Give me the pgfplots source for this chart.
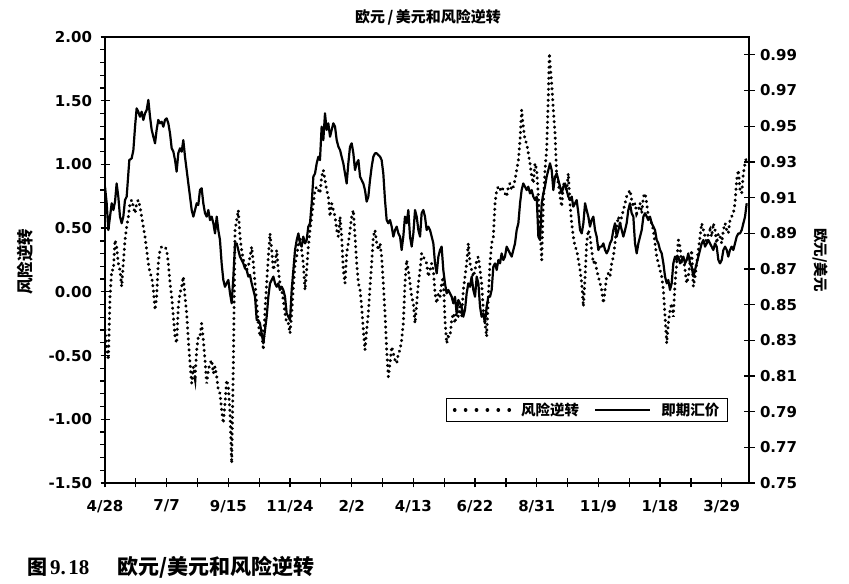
\documentclass[border=0pt]{standalone}
\usepackage{fontspec}
\usepackage{pgfplots}
\usepackage{pgfplotstable}
\pgfplotsset{compat=1.18}
\newfontfamily\cjk{Noto Sans CJK SC}
\newfontfamily\numfont{DejaVu Sans}
\newfontfamily\capnum{Liberation Serif}

\pgfplotstableread{
d v
0 0.9161
1.9 0.9068
3.8 0.8918
5.7 0.8993
7.6 0.9068
9.5 0.9030
11.4 0.9077
13.2 0.9179
15.1 0.9105
17.0 0.8993
18.9 0.8956
20.8 0.8993
22.7 0.9086
24.6 0.9105
27.6 0.9310
30.3 0.9320
32.2 0.9366
34.1 0.9497
35.9 0.9600
37.8 0.9581
39.7 0.9553
41.6 0.9581
43.5 0.9535
45.4 0.9572
47.3 0.9591
49.2 0.9647
51.1 0.9553
53.0 0.9479
54.9 0.9441
56.8 0.9404
58.6 0.9479
60.5 0.9535
62.4 0.9516
64.3 0.9525
66.2 0.9497
68.1 0.9535
70.0 0.9544
71.9 0.9516
73.8 0.9460
75.7 0.9376
77.6 0.9357
79.5 0.9310
81.3 0.9245
83.2 0.9348
85.1 0.9376
87.0 0.9357
88.9 0.9422
90.8 0.9329
92.7 0.9254
94.6 0.9179
96.5 0.9105
98.4 0.9030
100.3 0.8993
102.2 0.9030
104.1 0.9068
105.9 0.9058
107.8 0.9142
109.7 0.9152
111.6 0.9068
113.5 0.9012
115.4 0.8993
117.3 0.9030
119.2 0.8974
121.1 0.8993
123.0 0.8956
124.9 0.8899
126.8 0.8993
128.6 0.8918
130.5 0.8862
132.4 0.8731
134.3 0.8638
136.2 0.8600
138.1 0.8619
140.0 0.8638
141.9 0.8563
143.8 0.8507
145.7 0.8657
147.6 0.8843
149.5 0.8843
151.3 0.8806
153.2 0.8769
155.1 0.8750
157.0 0.8731
158.9 0.8703
160.8 0.8694
162.7 0.8657
164.6 0.8666
166.5 0.8619
168.4 0.8582
170.3 0.8544
172.2 0.8413
174.0 0.8413
175.9 0.8395
177.8 0.8339
179.7 0.8283
181.6 0.8357
183.5 0.8432
185.4 0.8544
187.3 0.8619
189.2 0.8638
191.1 0.8657
193.0 0.8619
194.9 0.8600
196.7 0.8619
198.6 0.8582
200.5 0.8600
202.4 0.8582
204.3 0.8544
206.2 0.8451
208.1 0.8432
210.0 0.8413
211.9 0.8582
213.8 0.8694
215.7 0.8806
217.6 0.8862
219.5 0.8899
221.3 0.8843
223.2 0.8825
225.1 0.8881
227.0 0.8843
228.9 0.8862
230.8 0.8937
232.7 0.8956
234.6 0.9068
236.5 0.9217
238.4 0.9235
240.3 0.9292
242.2 0.9329
244.0 0.9310
245.9 0.9497
247.8 0.9422
249.7 0.9572
251.6 0.9479
253.5 0.9516
255.4 0.9441
257.3 0.9479
259.2 0.9516
261.1 0.9497
263.0 0.9422
264.9 0.9385
266.8 0.9366
268.6 0.9329
270.5 0.9292
272.4 0.9235
274.3 0.9179
276.2 0.9292
278.1 0.9385
280.0 0.9404
281.9 0.9348
283.8 0.9254
285.7 0.9292
287.6 0.9310
289.5 0.9217
291.3 0.9198
293.2 0.9179
295.1 0.9142
297.0 0.9077
298.9 0.9105
300.8 0.9198
302.7 0.9273
304.6 0.9329
306.5 0.9348
308.4 0.9348
310.3 0.9338
312.2 0.9329
314.0 0.9310
315.9 0.9235
317.8 0.9086
319.7 0.8974
321.6 0.8956
323.5 0.8974
325.4 0.8937
327.3 0.8881
329.2 0.8918
331.1 0.8937
333.0 0.8899
334.9 0.8881
336.7 0.8806
338.6 0.8881
340.5 0.8993
342.4 0.8956
344.3 0.9030
346.2 0.8881
348.1 0.8825
350.0 0.8899
351.9 0.9030
353.8 0.8993
355.7 0.8918
357.6 0.8881
359.4 0.9012
361.3 0.9030
363.2 0.8993
365.1 0.8918
367.0 0.8937
368.9 0.8918
370.8 0.8881
372.7 0.8843
374.6 0.8731
376.5 0.8675
378.4 0.8769
380.3 0.8806
382.1 0.8825
384.0 0.8694
385.9 0.8619
387.8 0.8563
389.7 0.8582
391.6 0.8563
393.5 0.8544
395.4 0.8507
397.3 0.8544
399.2 0.8451
401.1 0.8526
402.9 0.8507
404.8 0.8488
406.7 0.8432
408.6 0.8470
410.5 0.8563
412.4 0.8619
414.3 0.8600
416.2 0.8657
418.1 0.8582
420.0 0.8544
421.9 0.8657
423.8 0.8619
425.7 0.8488
427.5 0.8432
429.4 0.8451
431.3 0.8395
433.2 0.8488
435.1 0.8544
437.0 0.8544
438.9 0.8582
440.8 0.8713
442.7 0.8731
444.6 0.8694
446.5 0.8750
448.4 0.8731
450.2 0.8787
452.1 0.8750
454.0 0.8769
455.9 0.8825
457.8 0.8806
459.7 0.8787
461.6 0.8769
463.5 0.8806
465.4 0.8843
467.3 0.8918
469.2 0.8956
471.1 0.9068
472.9 0.9142
474.8 0.9179
476.7 0.9161
478.6 0.9142
480.5 0.9161
482.4 0.9123
484.3 0.9142
486.2 0.9105
488.1 0.9086
490.0 0.9105
491.9 0.8881
493.8 0.8862
495.7 0.9068
497.5 0.9123
499.4 0.9161
501.3 0.9217
503.2 0.9254
505.1 0.9292
507.0 0.9254
508.9 0.9142
510.8 0.9217
512.7 0.9235
514.6 0.9198
516.5 0.9161
518.4 0.9123
520.3 0.9161
522.1 0.9179
524.0 0.9142
525.9 0.9105
527.8 0.9086
529.7 0.9105
531.6 0.9049
533.5 0.9068
535.4 0.9086
537.3 0.9012
539.2 0.8918
541.1 0.8899
543.0 0.8956
544.9 0.9068
546.7 0.9030
548.6 0.8993
550.5 0.8937
552.4 0.8974
554.3 0.8993
556.2 0.8918
558.1 0.8881
560.0 0.8806
561.9 0.8825
563.8 0.8825
565.7 0.8843
567.6 0.8806
569.4 0.8787
571.3 0.8806
573.2 0.8843
575.1 0.8862
577.0 0.8918
578.9 0.8956
580.8 0.8881
582.7 0.8918
584.6 0.8956
586.5 0.8918
588.4 0.8881
590.3 0.8918
592.1 0.8956
594.0 0.9030
595.9 0.9068
597.8 0.9012
599.7 0.8993
601.6 0.8843
603.5 0.8787
605.4 0.8843
607.3 0.8881
609.2 0.8918
611.1 0.8993
613.0 0.9012
614.9 0.8993
616.7 0.8974
618.6 0.8993
620.5 0.8956
622.4 0.8937
624.3 0.8918
626.2 0.8862
628.1 0.8843
630.0 0.8806
631.9 0.8787
633.8 0.8731
635.7 0.8657
637.6 0.8619
639.4 0.8638
641.3 0.8582
643.2 0.8619
645.1 0.8731
647.0 0.8769
648.9 0.8750
650.8 0.8769
652.7 0.8731
654.6 0.8750
656.5 0.8769
658.4 0.8731
660.3 0.8750
662.1 0.8787
664.0 0.8731
665.9 0.8713
667.8 0.8657
669.7 0.8694
671.6 0.8731
673.5 0.8769
675.4 0.8806
677.3 0.8843
679.2 0.8862
681.1 0.8825
683.0 0.8843
684.8 0.8862
686.7 0.8843
688.6 0.8825
690.5 0.8806
692.4 0.8843
694.3 0.8825
696.2 0.8750
698.1 0.8731
700.0 0.8750
701.9 0.8806
703.8 0.8825
705.7 0.8806
707.5 0.8769
709.4 0.8806
711.3 0.8825
713.2 0.8806
715.1 0.8843
717.0 0.8881
718.9 0.8899
720.8 0.8899
722.7 0.8918
724.6 0.8956
726.5 0.8993
728.4 0.9068
}\fxdata

\pgfplotstableread{
d v
0 -0.299
1.9 -0.430
3.8 -0.535
5.7 -0.038
7.6 0.171
9.5 0.171
11.4 0.407
13.2 0.354
15.1 0.224
17.0 0.171
18.9 0.041
20.8 0.224
22.7 0.407
24.6 0.511
26.5 0.590
28.4 0.695
30.3 0.721
32.2 0.668
34.1 0.616
35.9 0.695
37.8 0.721
39.7 0.668
41.6 0.590
43.5 0.511
45.4 0.433
47.3 0.328
49.2 0.224
51.1 0.145
53.0 0.119
54.9 0.014
56.8 -0.143
58.6 -0.038
60.5 0.224
62.4 0.328
64.3 0.354
66.2 0.354
68.1 0.354
70.0 0.328
71.9 0.224
73.8 0.067
75.7 -0.038
77.6 -0.195
79.5 -0.352
81.3 -0.404
83.2 -0.116
85.1 -0.012
87.0 0.041
88.9 0.119
90.8 -0.038
92.7 -0.169
94.6 -0.378
96.5 -0.561
98.4 -0.718
100.3 -0.587
102.2 -0.666
104.1 -0.456
105.9 -0.352
107.8 -0.352
109.7 -0.247
111.6 -0.378
113.5 -0.535
115.4 -0.718
117.3 -0.613
119.2 -0.561
121.1 -0.535
123.0 -0.640
124.9 -0.587
126.8 -0.666
128.6 -0.770
130.5 -0.797
132.4 -0.927
134.3 -1.032
136.2 -0.875
138.1 -0.692
140.0 -0.744
141.9 -0.953
143.8 -1.346
145.7 -0.561
147.6 0.485
149.5 0.564
151.3 0.642
153.2 0.433
155.1 0.328
157.0 0.250
158.9 0.224
160.8 0.171
162.7 0.198
164.6 0.276
166.5 0.354
168.4 0.224
170.3 0.067
172.2 -0.090
174.0 -0.247
175.9 -0.352
177.8 -0.299
179.7 -0.456
181.6 -0.143
183.5 0.067
185.4 0.276
187.3 0.459
189.2 0.328
191.1 0.171
193.0 0.224
194.9 0.328
196.7 0.171
198.6 0.067
200.5 0.014
202.4 -0.064
204.3 -0.169
206.2 -0.247
208.1 -0.247
210.0 -0.326
211.9 -0.169
213.8 0.041
215.7 0.224
217.6 0.276
219.5 0.381
221.3 0.433
223.2 0.328
225.1 0.224
227.0 0.014
228.9 0.171
230.8 0.354
232.7 0.485
234.6 0.590
236.5 0.695
238.4 0.799
240.3 0.825
242.2 0.799
244.0 0.773
245.9 0.904
247.8 0.956
249.7 0.878
251.6 0.799
253.5 0.747
255.4 0.590
257.3 0.695
259.2 0.642
261.1 0.590
263.0 0.485
264.9 0.433
266.8 0.590
268.6 0.433
270.5 0.171
272.4 0.067
274.3 0.302
276.2 0.381
278.1 0.485
280.0 0.590
281.9 0.642
283.8 0.433
285.7 0.224
287.6 0.067
289.5 0.014
291.3 -0.116
293.2 -0.299
295.1 -0.456
297.0 -0.299
298.9 -0.169
300.8 0.041
302.7 0.224
304.6 0.433
306.5 0.485
308.4 0.381
310.3 0.328
312.2 0.381
314.0 0.276
315.9 0.067
317.8 -0.169
319.7 -0.456
321.6 -0.666
323.5 -0.561
325.4 -0.430
327.3 -0.483
329.2 -0.535
331.1 -0.561
333.0 -0.483
334.9 -0.456
336.7 -0.378
338.6 -0.247
340.5 0.067
342.4 0.250
344.3 0.171
346.2 0.067
348.1 -0.038
350.0 -0.090
351.9 -0.247
353.8 -0.090
355.7 0.067
357.6 0.171
359.4 0.302
361.3 0.276
363.2 0.250
365.1 0.224
367.0 0.119
368.9 0.171
370.8 0.224
372.7 0.171
374.6 -0.012
376.5 -0.090
378.4 -0.012
380.3 -0.038
382.1 0.067
384.0 0.119
385.9 -0.221
387.8 -0.404
389.7 -0.352
391.6 -0.352
393.5 -0.221
395.4 -0.169
397.3 -0.247
399.2 -0.143
401.1 -0.195
402.9 -0.116
404.8 -0.195
406.7 0.014
408.6 0.119
410.5 0.224
412.4 0.381
414.3 0.224
416.2 0.171
418.1 0.119
420.0 0.171
421.9 0.250
423.8 0.276
425.7 0.171
427.5 0.067
429.4 -0.143
431.3 -0.247
433.2 -0.352
435.1 -0.038
437.0 0.224
438.9 0.381
440.8 0.433
442.7 0.695
444.6 0.799
446.5 0.825
448.4 0.799
450.2 0.825
452.1 0.799
454.0 0.773
455.9 0.747
457.8 0.825
459.7 0.852
461.6 0.799
463.5 0.825
465.4 0.878
467.3 0.956
469.2 1.035
471.1 1.192
472.9 1.427
474.8 1.296
476.7 1.192
478.6 1.166
480.5 1.087
482.4 1.009
484.3 0.904
486.2 0.852
488.1 1.009
490.0 0.956
491.9 0.747
493.8 0.485
495.7 0.250
497.5 0.695
499.4 0.956
501.3 1.113
503.2 1.532
504.4 1.872
505.1 1.793
507.0 1.636
508.9 1.427
510.8 1.244
512.7 0.904
514.6 0.852
516.5 0.747
518.4 0.668
520.3 0.852
522.1 0.825
524.0 0.799
525.9 0.930
527.8 0.695
529.7 0.538
531.6 0.433
533.5 0.354
535.4 0.328
537.3 0.250
539.2 0.171
541.1 0.067
543.0 -0.116
544.9 0.119
546.7 0.381
548.6 0.485
550.5 0.433
552.4 0.328
554.3 0.224
556.2 0.250
558.1 0.171
560.0 0.119
561.9 0.067
563.8 0.014
565.7 -0.090
567.6 0.014
569.4 0.119
571.3 0.145
573.2 0.119
575.1 0.224
577.0 0.276
578.9 0.381
580.8 0.511
582.7 0.590
584.6 0.538
586.5 0.590
588.4 0.642
590.3 0.695
592.1 0.747
594.0 0.773
595.9 0.799
597.8 0.721
599.7 0.668
601.6 0.695
603.5 0.616
605.4 0.642
607.3 0.695
609.2 0.616
611.1 0.747
613.0 0.773
614.9 0.695
616.7 0.590
618.6 0.564
620.5 0.538
622.4 0.485
624.3 0.381
626.2 0.276
628.1 0.224
630.0 0.171
631.9 0.119
633.8 0.014
635.7 -0.195
637.6 -0.404
639.4 -0.247
641.3 -0.143
643.2 -0.090
645.1 -0.195
647.0 0.067
648.9 0.224
650.8 0.407
652.7 0.354
654.6 0.224
656.5 0.276
658.4 0.171
660.3 0.067
662.1 0.119
664.0 0.224
665.9 0.328
667.8 0.041
669.7 0.119
671.6 0.224
673.5 0.328
675.4 0.433
677.3 0.538
679.2 0.485
681.1 0.433
683.0 0.381
684.8 0.459
686.7 0.485
688.6 0.433
690.5 0.538
692.4 0.485
694.3 0.381
696.2 0.459
698.1 0.433
700.0 0.381
701.9 0.485
703.8 0.538
705.7 0.485
707.5 0.459
709.4 0.564
711.3 0.590
713.2 0.616
715.1 0.695
717.0 0.878
718.9 0.956
720.8 0.799
722.7 0.773
724.6 0.930
726.5 1.009
728.4 1.061
}\rrdata

\tikzset{
  rrline/.style={black, line width=3.1bp, dash pattern=on 0.3bp off 5.2bp, line cap=round},
  rrleg/.style={black, line width=3.4bp, dash pattern=on 0.3bp off 10.6bp, line cap=round},
  fxline/.style={black, line width=2.2bp, line join=round}
}

\begin{document}
\begin{tikzpicture}[x=1bp,y=1bp]
\path[use as bounding box] (0,0) rectangle (849,584);
\begin{axis}[
  at={(105bp,101bp)}, anchor=south west,
  scale only axis, width=644bp, height=446bp,
  xmin=0, xmax=731, ymin=-1.5, ymax=2,
  axis line style={line width=1.3bp},
  xtick={0,35,...,700},
  xticklabels={4/28,,7/7,,9/15,,11/24,,2/2,,4/13,,6/22,,8/31,,11/9,,1/18,,3/29},
  ytick={-1.5,-1,-0.5,0,0.5,1,1.5,2},
  minor y tick num=4,
  xtick pos=bottom, ytick pos=left,
  tick align=center,
  major tick length=9bp, minor tick length=5bp,
  every tick/.style={black, line width=1.3bp},
  every minor tick/.append style={xshift=-2.5bp},
  /pgf/number format/assume math mode=true,
  yticklabel={\pgfmathprintnumber[fixed,fixed zerofill,precision=2]{\tick}},
  tick label style={font=\numfont\bfseries\fontsize{15bp}{15bp}\selectfont},
  yticklabel style={xshift=-5bp},
  xticklabel style={yshift=-9bp},
]
\addplot[rrline] table[x=d,y=v] {\rrdata};
\end{axis}
\begin{axis}[
  at={(105bp,101bp)}, anchor=south west,
  scale only axis, width=644bp, height=446bp,
  xmin=0, xmax=731, ymin=0.75, ymax=1.0,
  axis x line=none, axis y line*=right,
  axis line style={line width=1.3bp},
  ytick={0.75,0.77,0.79,0.81,0.83,0.85,0.87,0.89,0.91,0.93,0.95,0.97,0.99},
  tick align=center, major tick length=11bp,
  every tick/.style={black, line width=1.3bp},
  /pgf/number format/assume math mode=true,
  yticklabel={\pgfmathprintnumber[fixed,fixed zerofill,precision=2]{\tick}},
  tick label style={font=\numfont\bfseries\fontsize{15bp}{15bp}\selectfont},
  yticklabel style={xshift=2bp},
  legend columns=2,
  legend style={at={(0.9674,0.1365)}, anchor=south east, draw=black, line width=1.2bp,
    font=\cjk\bfseries\fontsize{14.5bp}{14.5bp}\selectfont, inner xsep=6bp, inner ysep=2.5bp,
    /tikz/every odd column/.append style={column sep=8bp},
    /tikz/every even column/.append style={column sep=13bp}},
  legend image code/.code={\draw[#1] (0bp,0bp) -- (55bp,0bp);},
]
\addlegendimage{rrleg}
\addlegendentry{风险逆转}
\addplot[fxline] table[x=d,y=v] {\fxdata};
\addlegendentry{即期汇价}
\end{axis}
\node[font=\cjk\bfseries\fontsize{15bp}{15bp}\selectfont] at (428,567) {欧元\,/\,美元和风险逆转};
\node[font=\cjk\bfseries\fontsize{16.5bp}{16.5bp}\selectfont, rotate=90] at (25,322) {风险逆转};
\node[font=\cjk\bfseries\fontsize{14.5bp}{14.5bp}\selectfont, rotate=-90] at (820,324) {欧元/美元};
\node[anchor=base west, inner sep=0pt, font=\cjk\bfseries\fontsize{20bp}{20bp}\selectfont] at (27,9) {图};
\node[anchor=base west, inner sep=0pt, font=\capnum\bfseries\fontsize{21bp}{21bp}\selectfont] at (50,9) {9.\hspace{2.5bp}18};
\node[anchor=base west, inner sep=0pt] at (117,9) {\cjk\bfseries\fontsize{21bp}{21bp}\selectfont 欧元/美元和风险逆转};
\end{tikzpicture}
\end{document}
